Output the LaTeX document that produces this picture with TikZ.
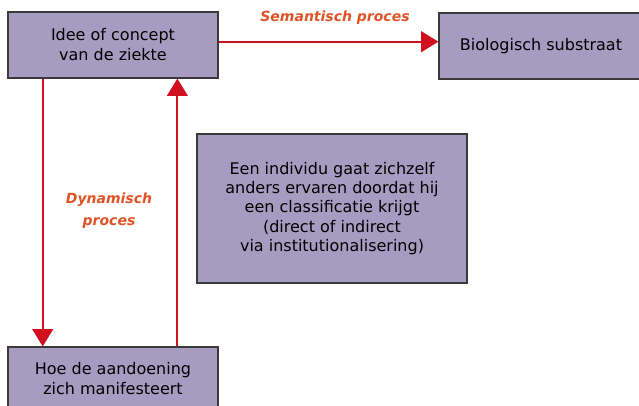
\documentclass[tikz,border=0pt]{standalone}
\usepackage{fontspec}
\setmainfont{DejaVu Sans}
\usetikzlibrary{arrows.meta}
\usetikzlibrary{calc}

\definecolor{boxfill}{HTML}{A69CC2}
\definecolor{boxline}{HTML}{3A3A3A}
\definecolor{flowred}{HTML}{D0101F}
\definecolor{labelred}{HTML}{E05326}

\tikzset{
    box/.style={draw=boxline, line width=0.8pt, fill=boxfill, align=center,
        font=\fontsize{12}{15}\selectfont, inner sep=0pt},
    flow/.style={draw=flowred, line width=1.5pt,
        -{Triangle[width=15.5pt,length=13pt]}},
    flowlabel/.style={text=labelred, align=center,
        font=\fontsize{10.5}{16.5}\selectfont\bfseries\itshape}
}

\begin{document}
\begin{tikzpicture}[x=0.75pt,y=-0.75pt]
    \useasboundingbox (0,0) rectangle (639,405);
    % Boxes
    \node[box, minimum width=157.5pt, minimum height=49.5pt] (idee) at (113,45)
        {Idee of concept\\van de ziekte};
    \node[box, minimum width=153pt, minimum height=49.5pt] (bio) at (541,46)
        {Biologisch substraat};
    \node[box, minimum width=157.5pt, minimum height=48pt] (hoe) at (113,379)
        {Hoe de aandoening\\zich manifesteert};
    \node[box, minimum width=202.5pt, minimum height=111.75pt,
        font=\fontsize{12}{14.4}\selectfont] (indiv) at (332,208.5)
        {Een individu gaat zichzelf\\anders ervaren doordat hij\\een classificatie krijgt\\(direct of indirect\\via institutionalisering)};
    % Arrows
    \draw[flow] ([yshift=2.5pt]idee.east) -- ([yshift=2.5pt]idee.east -| bio.west);
    \coordinate (down) at ($(idee.south west)!0.167!(idee.south east)$);
    \coordinate (up) at ($(idee.south west)!0.805!(idee.south east)$);
    \draw[flow] (down) -- (down |- hoe.north);
    \draw[flow] (up |- hoe.north) -- (up);
    % Labels
    \node[flowlabel] (sem) at (335,18) {Semantisch proces};
    \node[flowlabel] (dyn) at (109,211) {Dynamisch\\proces};
\end{tikzpicture}
\end{document}
